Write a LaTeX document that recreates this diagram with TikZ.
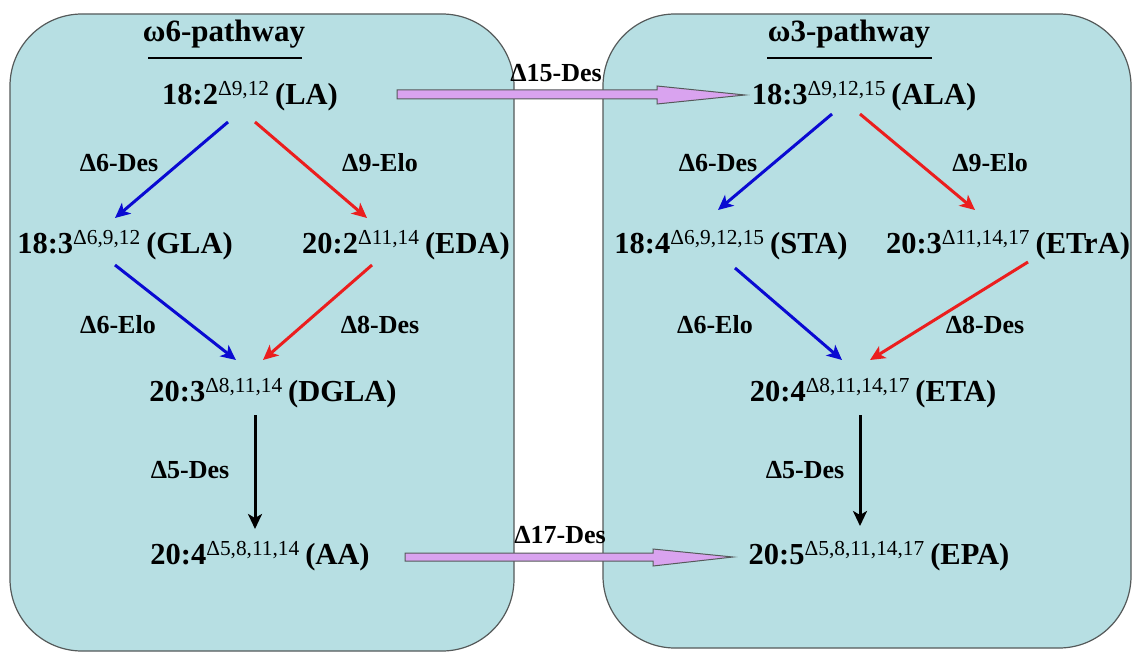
\documentclass[tikz,border=0pt]{standalone}
\usepackage{fontspec}
\setmainfont{Liberation Serif}
\usetikzlibrary{arrows.meta}
\definecolor{boxfill}{RGB}{183,223,227}
\definecolor{boxline}{RGB}{85,90,90}
\definecolor{bigarrow}{RGB}{217,163,239}
\definecolor{pblue}{RGB}{10,10,210}
\definecolor{pred}{RGB}{235,30,30}
\newcommand{\spx}[1]{{\mdseries\textsuperscript{#1}}\hspace{0.18em}}
\tikzset{
  fa/.style={font=\bfseries\fontsize{30.5}{32}\selectfont, inner sep=0pt},
  enz/.style={font=\bfseries\fontsize{26}{28}\selectfont, inner sep=0pt},
  ttl/.style={font=\bfseries\fontsize{31}{33}\selectfont, inner sep=0pt},
  pbox/.style={fill=boxfill, draw=boxline, line width=1.2pt, rounded corners=72pt},
  conv/.style={line width=3pt, -{Stealth[length=15pt,width=14pt,inset=4pt]}},
  big/.style={draw=boxline, fill=bigarrow, line width=1pt},
}
\begin{document}
\begin{tikzpicture}[x=1pt,y=-1pt]
\useasboundingbox (0,0) rectangle (1134,655);
\fill[white] (0,0) rectangle (1134,655);
% boxes
\draw[pbox] (10,14) rectangle (514,651);
\draw[pbox] (603,14) rectangle (1131,648);
% titles
\node[ttl] (t6) at (224,34) {ω6-pathway};
\node[ttl] (t3) at (849,34) {ω3-pathway};
\draw[line width=2pt] (148,58) -- (302,58);
\draw[line width=2pt] (767,58) -- (932,58);
% omega-6 nodes
\node[fa] (LA) at (250,96) {18:2\spx{Δ9,12}(LA)};
\node[fa] (GLA) at (125,245) {18:3\spx{Δ6,9,12}(GLA)};
\node[fa] (EDA) at (406,245) {20:2\spx{Δ11,14}(EDA)};
\node[fa] (DGLA) at (273,393) {20:3\spx{Δ8,11,14}(DGLA)};
\node[fa] (AA) at (260,556) {20:4\spx{Δ5,8,11,14}(AA)};
% omega-3 nodes
\node[fa] (ALA) at (864,96) {18:3\spx{Δ9,12,15}(ALA)};
\node[fa] (STA) at (731,245) {18:4\spx{Δ6,9,12,15}(STA)};
\node[fa] (ETrA) at (1008,245) {20:3\spx{Δ11,14,17}(ETrA)};
\node[fa] (ETA) at (873,393) {20:4\spx{Δ8,11,14,17}(ETA)};
\node[fa] (EPA) at (879,556) {20:5\spx{Δ5,8,11,14,17}(EPA)};
% coordinates for connector ends
\coordinate (a1s) at (228,122); \coordinate (a1e) at (115,218);
\coordinate (a2s) at (255,122); \coordinate (a2e) at (367,218);
\coordinate (a3s) at (115,265); \coordinate (a3e) at (236,360);
\coordinate (a4s) at (372,265); \coordinate (a4e) at (263,360);
\coordinate (a5s) at (255,415); \coordinate (a5e) at (255,529);
\coordinate (b1s) at (832,114); \coordinate (b1e) at (718,210);
\coordinate (b2s) at (860,114); \coordinate (b2e) at (975,210);
\coordinate (b3s) at (735,268); \coordinate (b3e) at (842,360);
\coordinate (b4s) at (1028,262); \coordinate (b4e) at (870,360);
\coordinate (b5s) at (860,415); \coordinate (b5e) at (860,526);
\draw[conv, pblue] (a1s) -- (a1e);
\draw[conv, pred] (a2s) -- (a2e);
\draw[conv, pblue] (a3s) -- (a3e);
\draw[conv, pred] (a4s) -- (a4e);
\draw[conv, black] (a5s) -- (a5e);
\draw[conv, pblue] (b1s) -- (b1e);
\draw[conv, pred] (b2s) -- (b2e);
\draw[conv, pblue] (b3s) -- (b3e);
\draw[conv, pred] (b4s) -- (b4e);
\draw[conv, black] (b5s) -- (b5e);
% enzyme labels
\node[enz] (e1) at (119,163) {Δ6-Des};
\node[enz] (e2) at (380,163) {Δ9-Elo};
\node[enz] (e3) at (118,325) {Δ6-Elo};
\node[enz] (e4) at (380,325) {Δ8-Des};
\node[enz] (e5) at (190,470) {Δ5-Des};
\node[enz] (f1) at (718,163) {Δ6-Des};
\node[enz] (f2) at (990,163) {Δ9-Elo};
\node[enz] (f3) at (715,325) {Δ6-Elo};
\node[enz] (f4) at (985,325) {Δ8-Des};
\node[enz] (f5) at (805,470) {Δ5-Des};
% big arrows
\draw[big] (397,90) -- (657,90) -- (657,86) -- (745,95) -- (657,104) -- (657,99) -- (397,99) -- cycle;
\draw[big] (405,553) -- (653,553) -- (653,549) -- (733,557) -- (653,566) -- (653,561) -- (405,561) -- cycle;
\node[enz] (d15) at (556,73) {Δ15-Des};
\node[enz] (d17) at (560,535) {Δ17-Des};
\end{tikzpicture}
\end{document}
